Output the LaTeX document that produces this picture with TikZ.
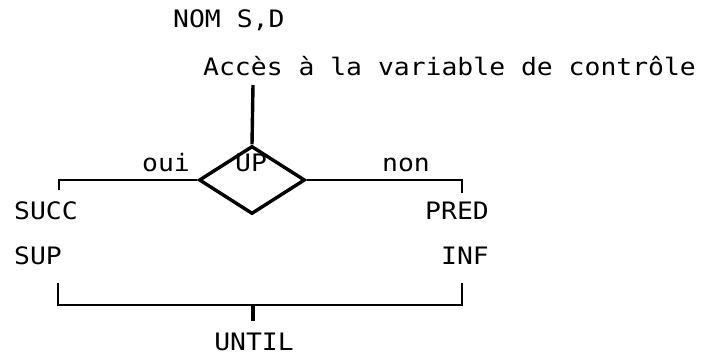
\documentclass[tikz,border=0pt]{standalone}
\usepackage{fontspec}
\setmonofont[FakeStretch=1.1]{DejaVu Sans Mono}
\usetikzlibrary{shapes.geometric}
\begin{document}
\begin{tikzpicture}[x=1pt,y=-1pt,
  lbl/.style={inner sep=0pt,font=\ttfamily\fontsize{24pt}{24pt}\selectfont},
  thick line/.style={line width=3.4pt},
  thin line/.style={line width=2.2pt},
  decision/.style={diamond,draw,line width=3.4pt,minimum width=106pt,
    minimum height=68pt,inner sep=0pt}]
\useasboundingbox (0,0) rectangle (720,355);

% titles
\node[lbl,anchor=base west] (nom) at (173,28) {NOM S,D};
\node[lbl,anchor=base west] (acc) at (203,76) {Accès à la variable de contrôle};

% decision on UP
\node[decision] (up) at (252,180) {};
\node[lbl,anchor=base] (uplbl) at (251,172) {UP};
\coordinate (top) at (253,85);
\draw[thick line] (top) -- (up.north);

% branch labels
\node[lbl,anchor=base west] (oui) at (142,172) {oui};
\node[lbl,anchor=base west] (non) at (382,172) {non};

% left and right branches
\coordinate (lend) at (59,190);
\coordinate (rend) at (462,193);
\draw[thin line] (up.west) -- (lend |- up.west) -- (lend);
\draw[thin line] (up.east) -- (rend |- up.east) -- (rend);

\node[lbl,anchor=base west] (succ) at (14,220) {SUCC};
\node[lbl,anchor=base west] (sup) at (14,265) {SUP};
\node[lbl,anchor=base east] (pred) at (489,220) {PRED};
\node[lbl,anchor=base east] (inf) at (489,265) {INF};

% join of both branches
\coordinate (jl) at (58,283);
\coordinate (jr) at (462,283);
\coordinate (jm) at (253,305);
\coordinate (jt) at (253,321);
\node[lbl,anchor=base] (until) at (254,350) {UNTIL};
\draw[thin line] (jl) -- (jl |- jm) -- (jr |- jm) -- (jr);
\draw[thick line] (jm) -- (jt);
\end{tikzpicture}
\end{document}
